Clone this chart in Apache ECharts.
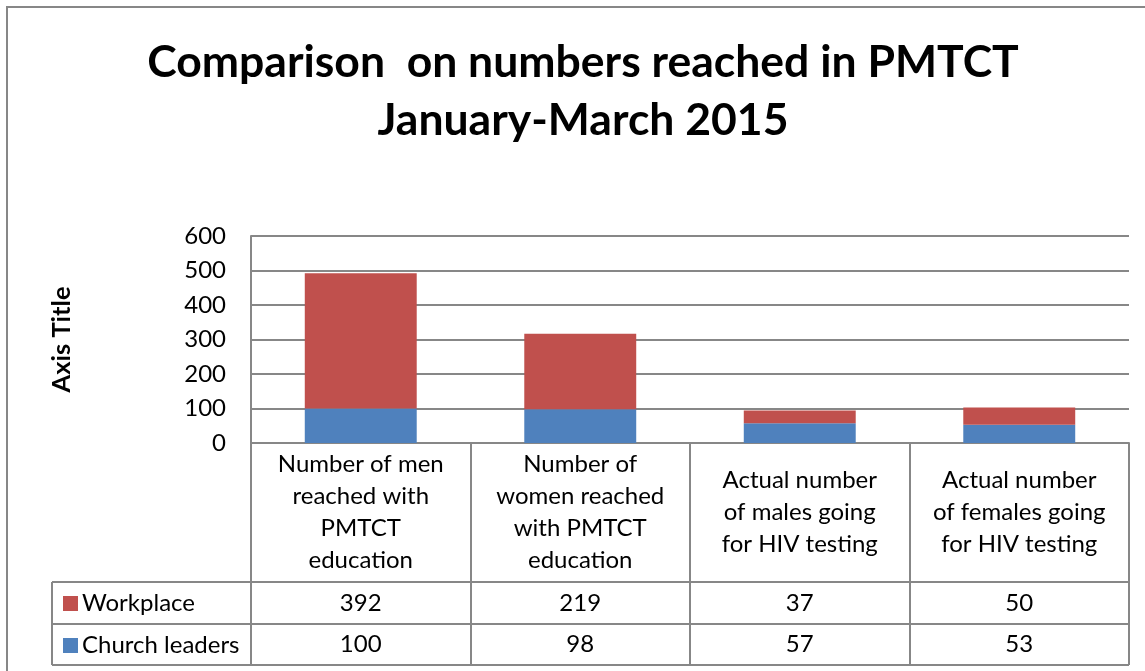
<!DOCTYPE html>
<html>
<head>
<meta charset="utf-8">
<script src="https://cdn.jsdelivr.net/npm/echarts@6/dist/echarts.min.js"></script>
<style>html,body{margin:0;padding:0;background:#fff}#c{width:1145px;height:671px}</style>
</head>
<body>
<div id="c"></div>
<script>
var titleLines = ['Comparison  on numbers reached in PMTCT', 'January-March 2015'];
var categories = [
  'Number of men\nreached with\nPMTCT\neducation',
  'Number of\nwomen reached\nwith PMTCT\neducation',
  'Actual number\nof males going\nfor HIV testing',
  'Actual number\nof females going\nfor HIV testing'
];
var seriesNames = ['Workplace', 'Church leaders'];
var workplace = [392, 219, 37, 50];
var churchLeaders = [100, 98, 57, 53];
var yTicks = {min: 0, max: 600, interval: 100};
var axisTitle = 'Axis Title';

var FONT = 'Lato';
var GRAY = '#878787';
var RED = '#C0504D';
var BLUE = '#4F81BD';

var chart = echarts.init(document.getElementById('c'), null, {renderer: 'canvas'});

var gridLeft = 251, gridRight = 16, gridTop = 236, gridBottom = 228;
var W = 1145, H = 671;
var plotBottom = H - gridBottom;   // 443
var rowY1 = 582, rowY2 = 624, rowY3 = 665, tableLeft = 52;
var tableRight = W - gridRight;

function valueAxis(offset, arr) {
  return {
    type: 'category', data: categories, gridIndex: 0, position: 'bottom', offset: offset,
    axisLine: {show: false}, axisTick: {show: false},
    axisLabel: {interval: 0, margin: 0, verticalAlign: 'middle', fontFamily: FONT, fontSize: 24, color: '#000',
      formatter: function (v, i) { return String(arr[i]); }}
  };
}

var option = {
  animation: false,
  backgroundColor: '#fff',
  textStyle: {fontFamily: FONT},
  title: {
    text: titleLines.join('\n'),
    left: 578, top: 29, textAlign: 'center',
    textStyle: {fontFamily: FONT, fontWeight: 'bold', fontSize: 44.5, lineHeight: 58, color: '#000'}
  },
  legend: {
    data: seriesNames, orient: 'vertical', left: 58, top: 586,
    icon: 'rect', itemWidth: 15, itemHeight: 15, itemGap: 17,
    textStyle: {fontFamily: FONT, fontSize: 24, lineHeight: 25, color: '#000', padding: [0, 0, 0, -1]},
    selectedMode: false
  },
  grid: {left: gridLeft, right: gridRight, top: gridTop, bottom: gridBottom, containLabel: false},
  xAxis: [
    {
      type: 'category', data: categories, position: 'bottom',
      axisLine: {show: true, lineStyle: {color: GRAY, width: 2}},
      axisTick: {show: true, length: rowY3 - plotBottom, lineStyle: {color: GRAY, width: 2}},
      axisLabel: {interval: 0, margin: (rowY1 - plotBottom) / 2, verticalAlign: 'middle', align: 'center',
        fontFamily: FONT, fontSize: 24, lineHeight: 32, color: '#000'}
    },
    valueAxis((rowY1 + rowY2) / 2 - plotBottom, workplace),
    valueAxis((rowY2 + rowY3) / 2 - plotBottom, churchLeaders)
  ],
  yAxis: {
    type: 'value', min: yTicks.min, max: yTicks.max, interval: yTicks.interval,
    name: axisTitle, nameLocation: 'middle', nameRotate: 90, nameGap: 176,
    nameTextStyle: {fontFamily: FONT, fontWeight: 'bold', fontSize: 25.5, color: '#000'},
    axisLine: {show: true, lineStyle: {color: GRAY, width: 2}},
    axisTick: {show: false},
    axisLabel: {margin: 25, fontFamily: FONT, fontSize: 24, color: '#000'},
    splitLine: {show: true, lineStyle: {color: GRAY, width: 2}}
  },
  series: [
    {name: seriesNames[1], type: 'bar', stack: 'total', data: churchLeaders, barCategoryGap: '49%',
      itemStyle: {color: BLUE}, xAxisIndex: 0},
    {name: seriesNames[0], type: 'bar', stack: 'total', data: workplace, barCategoryGap: '49%',
      itemStyle: {color: RED}, xAxisIndex: 0}
  ],
  graphic: [
    {type: 'rect', z: -10, silent: true, shape: {x: 7, y: 7, width: W + 20, height: H + 20},
      style: {fill: '#fff', stroke: GRAY, lineWidth: 2}},
    {type: 'line', silent: true, shape: {x1: tableLeft, y1: rowY1, x2: tableRight, y2: rowY1}, style: {stroke: GRAY, lineWidth: 2}},
    {type: 'line', silent: true, shape: {x1: tableLeft, y1: rowY2, x2: tableRight, y2: rowY2}, style: {stroke: GRAY, lineWidth: 2}},
    {type: 'line', silent: true, shape: {x1: tableLeft, y1: rowY3, x2: tableRight, y2: rowY3}, style: {stroke: GRAY, lineWidth: 2}},
    {type: 'line', silent: true, shape: {x1: tableLeft, y1: rowY1, x2: tableLeft, y2: rowY3}, style: {stroke: GRAY, lineWidth: 2}}
  ]
};
chart.setOption(option);
</script>
</body>
</html>
